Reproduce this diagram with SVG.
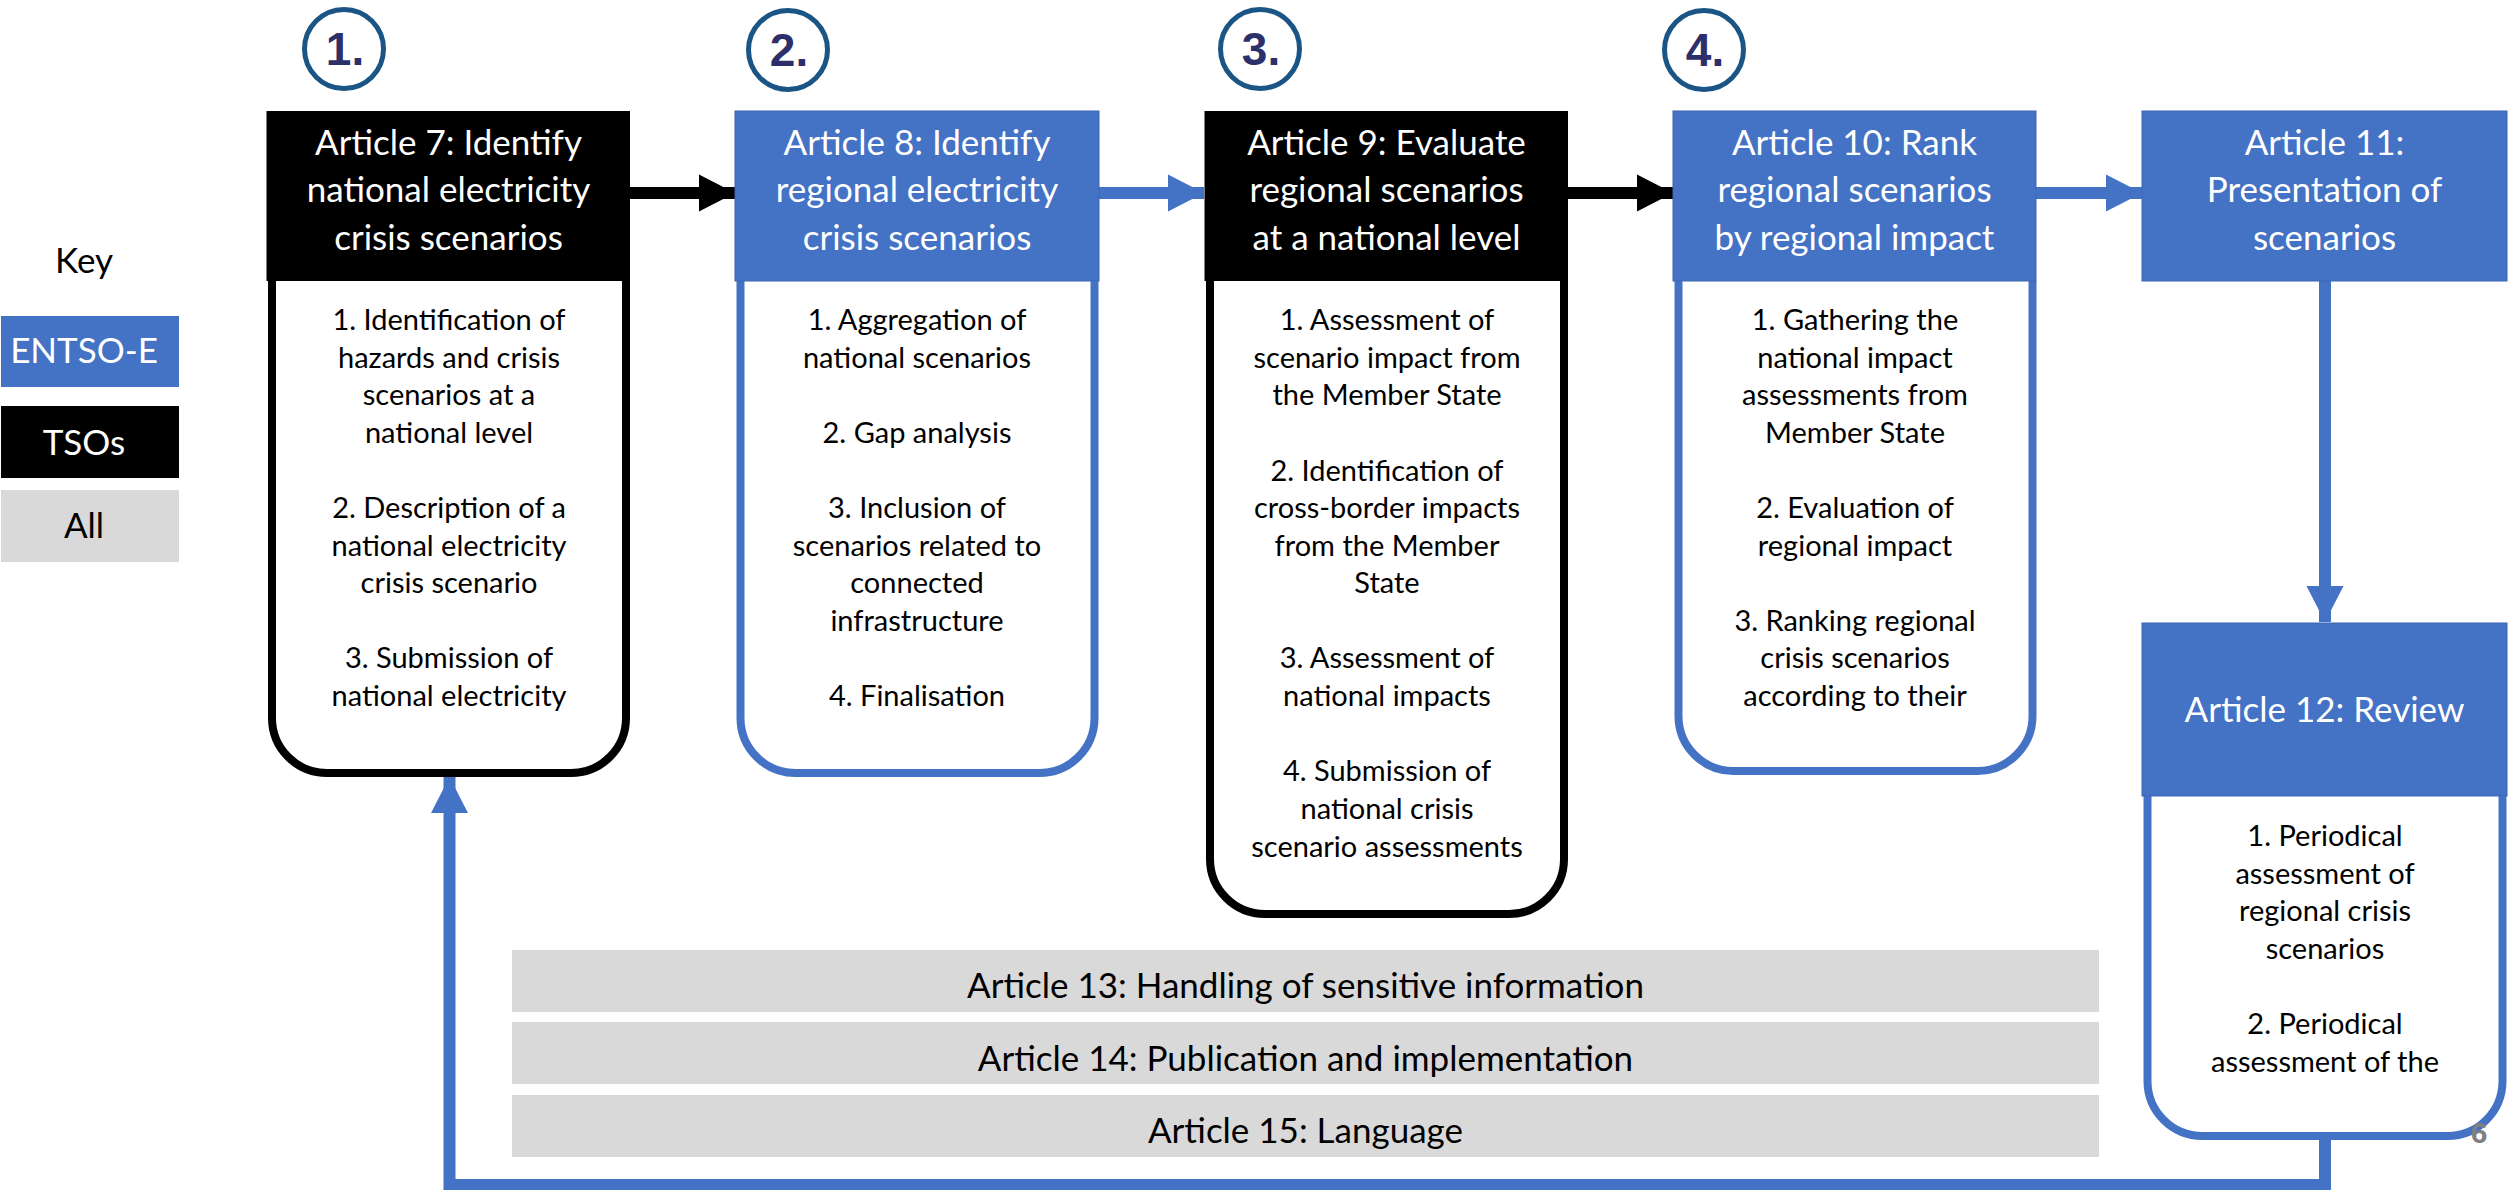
<svg xmlns="http://www.w3.org/2000/svg" width="2511" height="1190" viewBox="0 0 2511 1190">
<style>
  .t { font-family: Lato, 'Liberation Sans', sans-serif; text-anchor: middle; }
  .hdr { font-size: 35px; fill: #ffffff; }
  .body { font-size: 29px; fill: #000000; }
  .bar { font-size: 35px; fill: #000000; }
  .key { font-size: 35px; }
  .num { font-family: 'Liberation Sans', Arial, sans-serif; font-weight: bold; font-size: 46px; fill: #2D2F6B; text-anchor: middle; }
  .circ { fill: none; stroke: #1A5585; stroke-width: 5; }
  .hblue { fill: #4472C4; stroke: #3A66B5; stroke-width: 1; }
  .hblack { fill: #000000; }
  .bblue { fill: #ffffff; stroke: #4472C4; stroke-width: 8; }
  .bblack { fill: #ffffff; stroke: #000000; stroke-width: 8; }
  .grey { fill: #D9D9D9; }
  .cblue { fill: none; stroke: #4472C4; stroke-width: 12; }
  .cblack { fill: none; stroke: #000000; stroke-width: 12; }
</style>
<defs>
  <marker id="ahBlue" markerUnits="userSpaceOnUse" markerWidth="37" markerHeight="38" refX="36" refY="19" orient="auto" viewBox="0 0 37 38">
    <path d="M0,0.5 L36,19 L0,37.5 Z" fill="#4472C4"/>
  </marker>
  <marker id="ahBlack" markerUnits="userSpaceOnUse" markerWidth="37" markerHeight="38" refX="36" refY="19" orient="auto" viewBox="0 0 37 38">
    <path d="M0,0.5 L36,19 L0,37.5 Z" fill="#000000"/>
  </marker>
</defs>

<!-- Key -->
<g id="key">
  <text class="t key" x="84" y="273" fill="#000">Key</text>
  <rect x="1" y="316" width="178" height="71" fill="#4472C4"/>
  <text class="t key" x="84" y="363" fill="#fff">ENTSO-E</text>
  <rect x="1" y="406" width="178" height="72" fill="#000"/>
  <text class="t key" x="84" y="455" fill="#fff">TSOs</text>
  <rect x="1" y="490" width="178" height="72" fill="#D9D9D9"/>
  <text class="t key" x="84" y="538" fill="#000">All</text>
</g>

<!-- Step circles -->
<g id="step1"><circle class="circ" cx="344" cy="49" r="39.5"/><text class="num" x="345" y="65">1.</text></g>
<g id="step2"><circle class="circ" cx="788" cy="50" r="39.5"/><text class="num" x="789" y="66">2.</text></g>
<g id="step3"><circle class="circ" cx="1260" cy="49" r="39.5"/><text class="num" x="1261" y="65">3.</text></g>
<g id="step4"><circle class="circ" cx="1704" cy="50" r="39.5"/><text class="num" x="1705" y="66">4.</text></g>

<!-- Connectors -->
<g id="connectors">
  <line class="cblack" x1="630" y1="193" x2="735" y2="193" marker-end="url(#ahBlack)"/>
  <line class="cblue" x1="1099" y1="193" x2="1204" y2="193" marker-end="url(#ahBlue)"/>
  <line class="cblack" x1="1568" y1="193" x2="1673" y2="193" marker-end="url(#ahBlack)"/>
  <line class="cblue" x1="2036" y1="193" x2="2142" y2="193" marker-end="url(#ahBlue)"/>
  <line class="cblue" x1="2325" y1="281" x2="2325" y2="622" marker-end="url(#ahBlue)"/>
  <polyline class="cblue" points="2325,1136 2325,1185 449.5,1185 449.5,777" marker-end="url(#ahBlue)"/>
</g>

<!-- Article 7 -->
<g id="art7">
  <path class="bblack" d="M272,281 V718 A55,55 0 0 0 327,773 H571 A55,55 0 0 0 626,718 V281"/>
  <rect class="hblack" x="266.5" y="111" width="363.5" height="170"/>
  <text class="t hdr" x="448.5" y="155">Article 7: Identify</text>
  <text class="t hdr" x="448.5" y="202">national electricity</text>
  <text class="t hdr" x="448.5" y="250">crisis scenarios</text>
  <g class="t body">
    <text x="449" y="330">1. Identification of</text>
    <text x="449" y="367.5">hazards and crisis</text>
    <text x="449" y="405">scenarios at a</text>
    <text x="449" y="443">national level</text>
    <text x="449" y="518">2. Description of a</text>
    <text x="449" y="555.5">national electricity</text>
    <text x="449" y="593">crisis scenario</text>
    <text x="449" y="668">3. Submission of</text>
    <text x="449" y="706">national electricity</text>
  </g>
</g>

<!-- Article 8 -->
<g id="art8">
  <path class="bblue" d="M740.5,281 V718 A55,55 0 0 0 795.5,773 H1039.5 A55,55 0 0 0 1094.5,718 V281"/>
  <rect class="hblue" x="735" y="111" width="364" height="170"/>
  <text class="t hdr" x="917" y="155">Article 8: Identify</text>
  <text class="t hdr" x="917" y="202">regional electricity</text>
  <text class="t hdr" x="917" y="250">crisis scenarios</text>
  <g class="t body">
    <text x="917" y="330">1. Aggregation of</text>
    <text x="917" y="367.5">national scenarios</text>
    <text x="917" y="443">2. Gap analysis</text>
    <text x="917" y="518">3. Inclusion of</text>
    <text x="917" y="555.5">scenarios related to</text>
    <text x="917" y="593">connected</text>
    <text x="917" y="630.5">infrastructure</text>
    <text x="917" y="706">4. Finalisation</text>
  </g>
</g>

<!-- Article 9 -->
<g id="art9">
  <path class="bblack" d="M1210,281 V859 A55,55 0 0 0 1265,914 H1509 A55,55 0 0 0 1564,859 V281"/>
  <rect class="hblack" x="1204.5" y="111" width="363.5" height="170"/>
  <text class="t hdr" x="1386.5" y="155">Article 9: Evaluate</text>
  <text class="t hdr" x="1386.5" y="202">regional scenarios</text>
  <text class="t hdr" x="1386.5" y="250">at a national level</text>
  <g class="t body">
    <text x="1387" y="330">1. Assessment of</text>
    <text x="1387" y="367.5">scenario impact from</text>
    <text x="1387" y="405">the Member State</text>
    <text x="1387" y="480.5">2. Identification of</text>
    <text x="1387" y="518">cross-border impacts</text>
    <text x="1387" y="555.5">from the Member</text>
    <text x="1387" y="593">State</text>
    <text x="1387" y="668">3. Assessment of</text>
    <text x="1387" y="706">national impacts</text>
    <text x="1387" y="781">4. Submission of</text>
    <text x="1387" y="819">national crisis</text>
    <text x="1387" y="856.5">scenario assessments</text>
  </g>
</g>

<!-- Article 10 -->
<g id="art10">
  <path class="bblue" d="M1678.5,281 V716 A55,55 0 0 0 1733.5,771 H1977.5 A55,55 0 0 0 2032.5,716 V281"/>
  <rect class="hblue" x="1673" y="111" width="363" height="170"/>
  <text class="t hdr" x="1854.5" y="155">Article 10: Rank</text>
  <text class="t hdr" x="1854.5" y="202">regional scenarios</text>
  <text class="t hdr" x="1854.5" y="250">by regional impact</text>
  <g class="t body">
    <text x="1855" y="330">1. Gathering the</text>
    <text x="1855" y="367.5">national impact</text>
    <text x="1855" y="405">assessments from</text>
    <text x="1855" y="443">Member State</text>
    <text x="1855" y="518">2. Evaluation of</text>
    <text x="1855" y="555.5">regional impact</text>
    <text x="1855" y="630.5">3. Ranking regional</text>
    <text x="1855" y="668">crisis scenarios</text>
    <text x="1855" y="706">according to their</text>
  </g>
</g>

<!-- Article 11 -->
<g id="art11">
  <rect class="hblue" x="2142" y="111" width="365" height="170"/>
  <text class="t hdr" x="2324.5" y="155">Article 11:</text>
  <text class="t hdr" x="2324.5" y="202">Presentation of</text>
  <text class="t hdr" x="2324.5" y="250">scenarios</text>
</g>

<!-- Article 12 -->
<g id="art12">
  <path class="bblue" d="M2147.5,796 V1081 A55,55 0 0 0 2202.5,1136 H2447.5 A55,55 0 0 0 2502.5,1081 V796"/>
  <rect class="hblue" x="2142" y="623" width="365" height="173"/>
  <text class="t hdr" x="2324.5" y="722">Article 12: Review</text>
  <g class="t body">
    <text x="2325" y="846">1. Periodical</text>
    <text x="2325" y="884">assessment of</text>
    <text x="2325" y="921">regional crisis</text>
    <text x="2325" y="959">scenarios</text>
    <text x="2325" y="1034">2. Periodical</text>
    <text x="2325" y="1071.5">assessment of the</text>
  </g>
</g>

<!-- Cross-cutting articles -->
<g id="art13">
  <rect class="grey" x="512" y="950" width="1587" height="62"/>
  <text class="t bar" x="1305.5" y="998">Article 13: Handling of sensitive information</text>
</g>
<g id="art14">
  <rect class="grey" x="512" y="1022" width="1587" height="62"/>
  <text class="t bar" x="1305.5" y="1071">Article 14: Publication and implementation</text>
</g>
<g id="art15">
  <rect class="grey" x="512" y="1095" width="1587" height="62"/>
  <text class="t bar" x="1305.5" y="1143">Article 15: Language</text>
</g>

<!-- Page number -->
<text x="2479" y="1143" font-family="'Liberation Sans', Arial, sans-serif" font-weight="bold" font-size="30" fill="#808080" text-anchor="middle">6</text>
</svg>
